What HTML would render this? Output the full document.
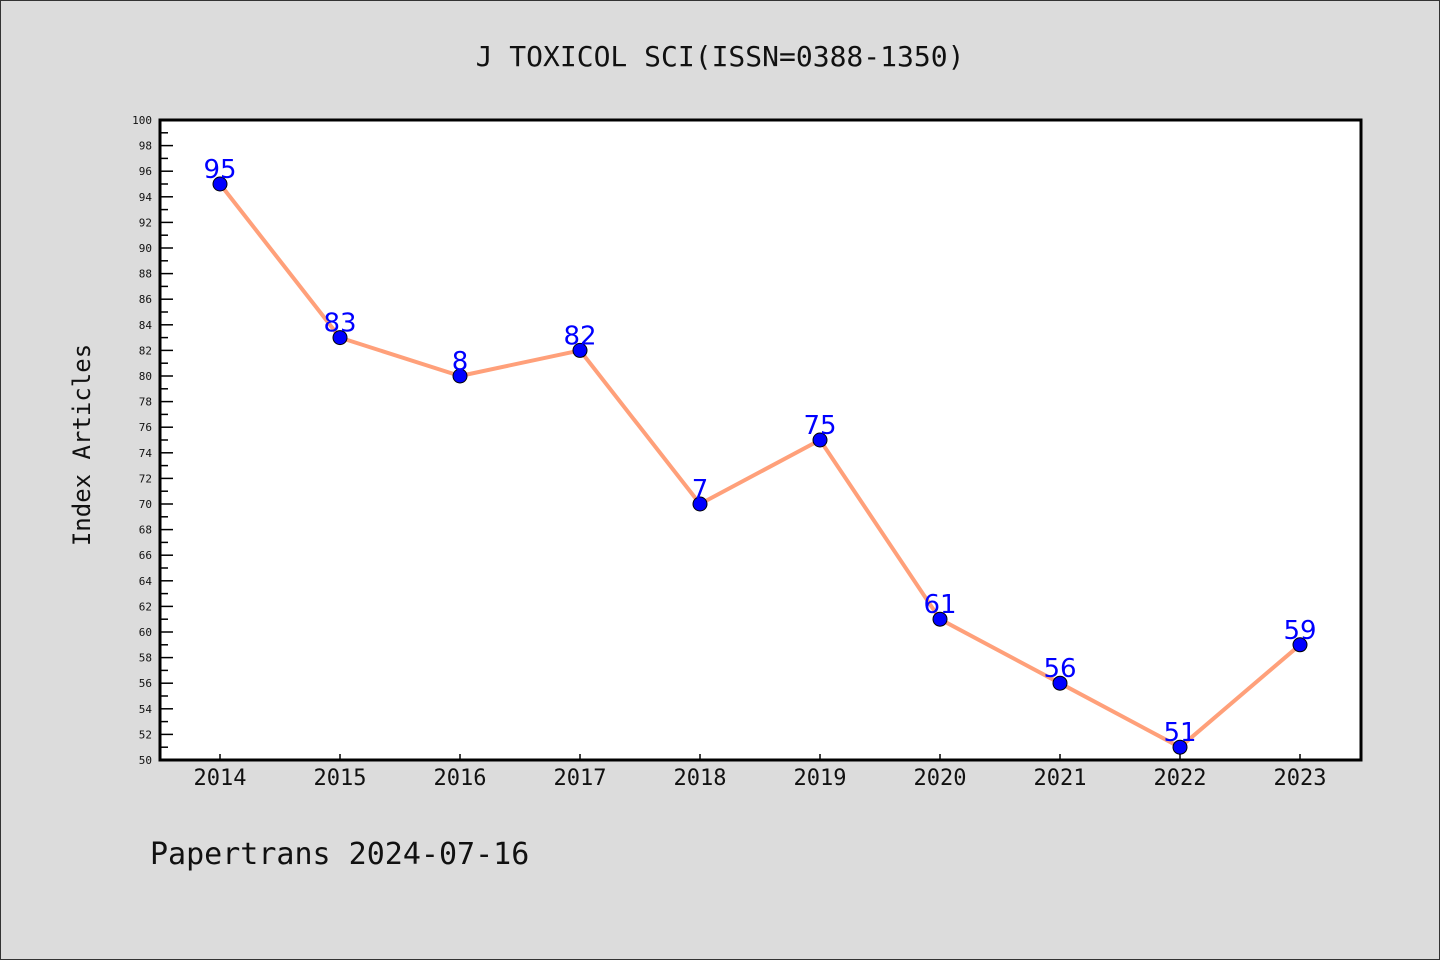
<!DOCTYPE html>
<html><head><meta charset="utf-8"><style>
html,body{margin:0;padding:0;background:#dcdcdc;}
svg{display:block;font-family:"DejaVu Sans Mono","Liberation Mono",monospace;}
</style></head><body>
<svg width="1440" height="960" xmlns="http://www.w3.org/2000/svg">
<rect x="0.5" y="0.5" width="1439" height="959" fill="#dcdcdc" stroke="#333"/>
<text x="720" y="66" text-anchor="middle" font-size="28" fill="#111">J TOXICOL SCI(ISSN=0388-1350)</text>
<rect x="160" y="120" width="1201" height="640" fill="#fff"/>
<g id="axes"></g>
<g id="series"></g>
<rect x="160" y="120" width="1201" height="640" fill="none" stroke="#000" stroke-width="3"/>
<text transform="translate(90,445) rotate(-90)" text-anchor="middle" font-size="24" fill="#111">Index Articles</text>
<text x="150" y="864" font-size="30" fill="#111">Papertrans 2024-07-16</text>
<script>
const years=["2014","2015","2016","2017","2018","2019","2020","2021","2022","2023"];
const values=[95,83,80,82,70,75,61,56,51,59];
const valueLabels=["95","83","8","82","7","75","61","56","51","59"];
const yMin=50,yMax=100;
const NS="http://www.w3.org/2000/svg";
function xs(i){return 220+i*120;}
function ys(v){return 760-(v-yMin)/(yMax-yMin)*640;}
function mk(t,a,p,txt){const e=document.createElementNS(NS,t);for(const k in a)e.setAttribute(k,a[k]);if(txt!==undefined)e.textContent=txt;p.appendChild(e);return e;}
const ax=document.getElementById('axes'),sr=document.getElementById('series');
for(let v=yMin;v<=yMax;v++){
  const y=ys(v),major=v%2===0;
  const t=mk('line',{x1:160,x2:major?173:168,y1:y,y2:y,stroke:'#000','stroke-width':1.5},ax);
  
  
  if(major){const l=mk('text',{x:152,y:y+4,'text-anchor':'end','font-size':11,fill:'#111'},ax,String(v));
    
    }
}
years.forEach((yr,i)=>{
  const x=xs(i);
  const t=mk('line',{x1:x,x2:x,y1:760,y2:754,stroke:'#000','stroke-width':1.5},ax);
  
  
  const l=mk('text',{x:x,y:785,'text-anchor':'middle','font-size':22,fill:'#111'},ax,yr);
  
  
});
const pts=values.map((v,i)=>xs(i)+','+ys(v)).join(' ');
const line=mk('polyline',{points:pts,fill:'none',stroke:'#ffa07a','stroke-width':4,'stroke-linejoin':'round'},sr);


values.forEach((v,i)=>{
  const c=mk('circle',{cx:xs(i),cy:ys(v),r:7,fill:'#0000ff',stroke:'#000','stroke-width':1},sr);
  
  
  const t=mk('text',{x:xs(i),y:ys(v)-6,'text-anchor':'middle','font-size':26,fill:'#0000ff','font-family':'"DejaVu Sans","Liberation Sans",sans-serif'},sr,valueLabels[i]);
  
  
});
</script>
</svg>
</body></html>
